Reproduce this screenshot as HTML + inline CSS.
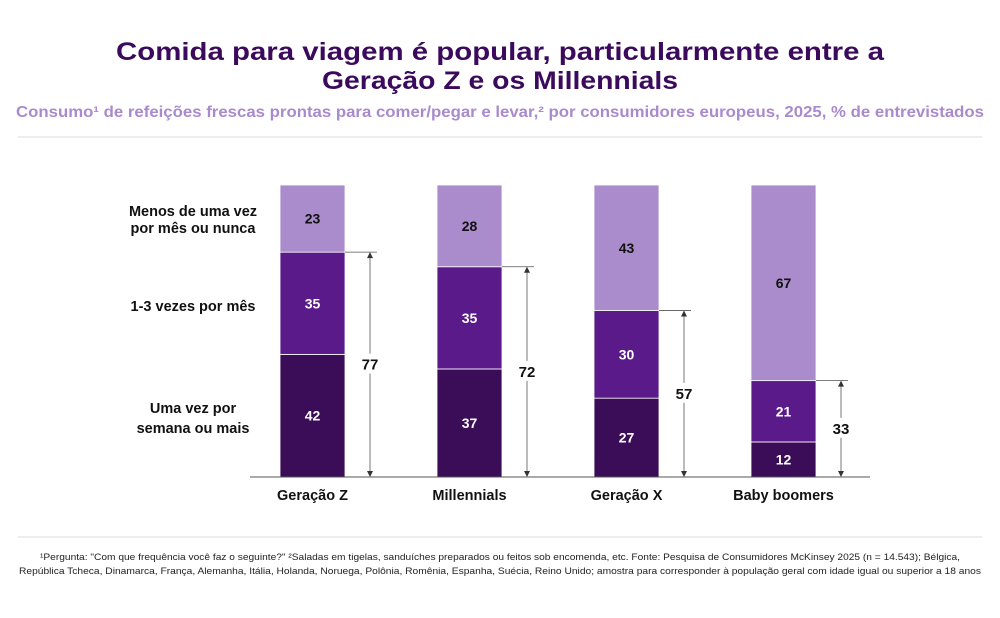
<!DOCTYPE html>
<html><head><meta charset="utf-8"><style>
body{margin:0;background:#fff;width:1000px;height:613px;overflow:hidden;font-family:"Liberation Sans",sans-serif;}
text{font-family:"Liberation Sans",sans-serif;}
</style></head><body>
<svg width="1000" height="613" viewBox="0 0 1000 613">
<text x="500" y="60" text-anchor="middle" font-size="25" font-weight="bold" fill="#3b0a5c" textLength="768" lengthAdjust="spacingAndGlyphs">Comida para viagem é popular, particularmente entre a</text>
<text x="500" y="89" text-anchor="middle" font-size="25" font-weight="bold" fill="#3b0a5c" textLength="356" lengthAdjust="spacingAndGlyphs">Geração Z e os Millennials</text>
<text x="500" y="117" text-anchor="middle" font-size="15.5" font-weight="bold" fill="#a98acd" textLength="968" lengthAdjust="spacingAndGlyphs">Consumo¹ de refeições frescas prontas para comer/pegar e levar,² por consumidores europeus, 2025, % de entrevistados</text>
<line x1="18" y1="137" x2="982" y2="137" stroke="#ddd"/>
<line x1="18" y1="537" x2="982" y2="537" stroke="#ddd"/>
<g font-size="14.5" font-weight="bold" fill="#111" text-anchor="middle">
<text x="193" y="216">Menos de uma vez</text><text x="193" y="233">por mês ou nunca</text>
<text x="193" y="311">1-3 vezes por mês</text>
<text x="193" y="413">Uma vez por</text><text x="193" y="433">semana ou mais</text>
</g>
<g id="bars"></g>
<line x1="250" y1="477" x2="870" y2="477" stroke="#555"/>
<g font-size="9.5" fill="#222" text-anchor="middle">
<text x="500" y="560" textLength="920" lengthAdjust="spacingAndGlyphs">¹Pergunta: "Com que frequência você faz o seguinte?" ²Saladas em tigelas, sanduíches preparados ou feitos sob encomenda, etc. Fonte: Pesquisa de Consumidores McKinsey 2025 (n = 14.543); Bélgica,</text>
<text x="500" y="574" textLength="962" lengthAdjust="spacingAndGlyphs">República Tcheca, Dinamarca, França, Alemanha, Itália, Holanda, Noruega, Polônia, Romênia, Espanha, Suécia, Reino Unido; amostra para corresponder à população geral com idade igual ou superior a 18 anos</text>
</g>
</svg>
<script>
const categories=["Geração Z","Millennials","Geração X","Baby boomers"];
const weekly=[42,37,27,12];
const monthly=[35,35,30,21];
const rarely=[23,28,43,67];
const ns="http://www.w3.org/2000/svg";
const g=document.getElementById("bars");
const base=477, top0=185, x0=280, step=157, bw=65;
const y=v=>base-(v/100)*(base-top0);
const xb=i=>x0+i*step;
function mk(t,a){const e=document.createElementNS(ns,t);for(const k in a)e.setAttribute(k,a[k]);g.appendChild(e);return e;}
const series=[[weekly,"#3b0d58","#fff","weekly"],[monthly,"#5a1a8a","#fff","monthly"],[rarely,"#aa8bcc","#111","rarely"]];
categories.forEach((c,i)=>{
  let cum=0;
  series.forEach(([arr,col,tc,nm])=>{
    const v=arr[i];const y1=y(cum+v),y2=y(cum);
    const r=mk("rect",{x:xb(i),y:y1,width:bw,height:y2-y1,fill:col,stroke:"#fff","stroke-width":0.8});
    
    
    const t=mk("text",{x:xb(i)+bw/2,y:(y1+y2)/2+5,"text-anchor":"middle","font-size":14,"font-weight":"bold",fill:tc});
    t.textContent=v;
    
    
    cum+=v;
  });
  const tot=weekly[i]+monthly[i];const ty=y(tot);const lx=xb(i)+bw+25;
  const h=mk("line",{x1:xb(i)+bw,y1:ty,x2:lx+7,y2:ty,stroke:"#555","stroke-width":0.8});
  
  
  const v=mk("line",{x1:lx,y1:ty+1,x2:lx,y2:base-1,stroke:"#555","stroke-width":0.8});
  
  
  mk("path",{d:`M${lx-3},${ty+6}L${lx},${ty}L${lx+3},${ty+6}Z`,fill:"#333"});
  mk("path",{d:`M${lx-3},${base-6}L${lx},${base}L${lx+3},${base-6}Z`,fill:"#333"});
  const my=(ty+base)/2;
  mk("rect",{x:lx-12,y:my-11,width:24,height:20,fill:"#fff"});
  const tt=mk("text",{x:lx,y:my+5,"text-anchor":"middle","font-size":15,"font-weight":"bold",fill:"#111"});
  tt.textContent=tot;
  
  
  const cl=mk("text",{x:xb(i)+bw/2,y:500,"text-anchor":"middle","font-size":14.5,"font-weight":"bold",fill:"#111"});
  cl.textContent=c;
  
  
});
</script>
</body></html>
